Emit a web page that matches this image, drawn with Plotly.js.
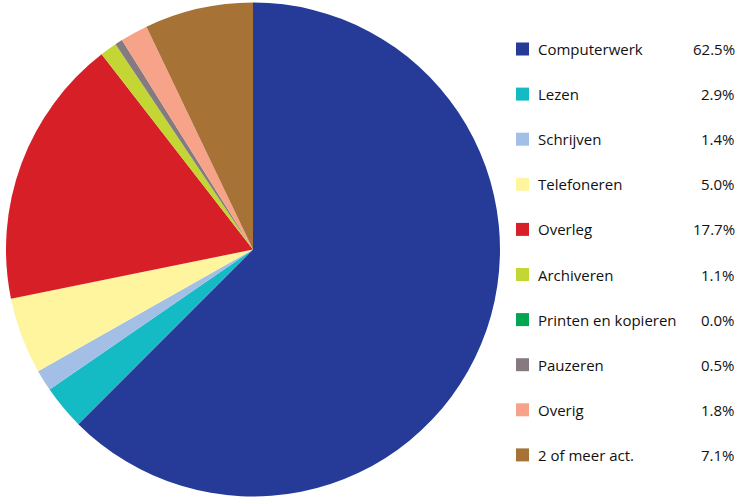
<!DOCTYPE html>
<html>
<head>
<meta charset="utf-8">
<script src="https://cdn.plot.ly/plotly-3.0.1.min.js"></script>
<style>html,body{margin:0;padding:0;background:#fff;}#chart{width:739px;height:499px;}</style>
</head>
<body>
<div id="chart"></div>
<script>
const categories = ["Computerwerk", "Lezen", "Schrijven", "Telefoneren", "Overleg", "Archiveren", "Printen en kopieren", "Pauzeren", "Overig", "2 of meer act."];
const values = [62.5, 2.9, 1.4, 5.0, 17.7, 1.1, 0.0, 0.5, 1.8, 7.1];
const percentLabels = ["62.5%", "2.9%", "1.4%", "5.0%", "17.7%", "1.1%", "0.0%", "0.5%", "1.8%", "7.1%"];
const colors = ["#263B97", "#14BAC4", "#A3BFE5", "#FFF59E", "#D71F27", "#C3D633", "#00A651", "#857A80", "#F7A38A", "#A67236"];

const W = 739, H = 499;
const font = "Open Sans, Liberation Sans, sans-serif";

const trace = {
  type: "pie",
  labels: categories,
  values: values,
  sort: false,
  direction: "clockwise",
  rotation: 0,
  textinfo: "none",
  hoverinfo: "label+percent",
  showlegend: false,
  marker: { colors: colors, line: { width: 0 } },
  domain: { x: [6 / W, 500 / W], y: [0, 1] }
};

const shapes = [];
const annotations = [];
const rowTop = 49, rowStep = 45.1;
categories.forEach((c, i) => {
  const yc = rowTop + i * rowStep;
  shapes.push({
    type: "rect", xref: "paper", yref: "paper",
    x0: 516 / W, x1: 529 / W,
    y0: 1 - (yc + 6.5) / H, y1: 1 - (yc - 6.5) / H,
    fillcolor: colors[i], line: { width: 0 }
  });
  annotations.push({
    xref: "paper", yref: "paper", x: 536 / W, y: 1 - yc / H,
    xanchor: "left", yanchor: "middle", showarrow: false,
    text: c, font: { family: font, size: 15, color: "#111" }
  });
  annotations.push({
    xref: "paper", yref: "paper", x: 737 / W, y: 1 - yc / H,
    xanchor: "right", yanchor: "middle", showarrow: false,
    text: percentLabels[i], font: { family: font, size: 15, color: "#111" }
  });
});

const layout = {
  width: W, height: H,
  margin: { l: 0, r: 0, t: 0, b: 0 },
  paper_bgcolor: "#fff",
  showlegend: false,
  shapes: shapes,
  annotations: annotations
};

Plotly.newPlot("chart", [trace], layout, { displayModeBar: false, staticPlot: true });
</script>
</body>
</html>
